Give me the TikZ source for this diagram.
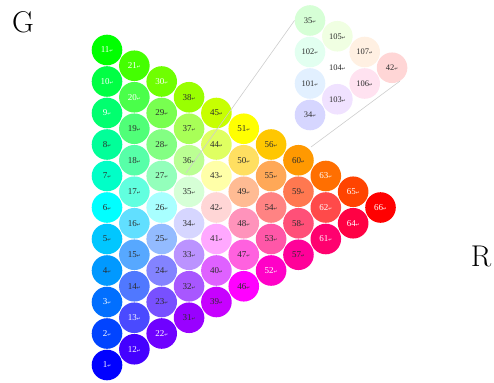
\documentclass[tikz,border=0pt]{standalone}
\usepackage{fontspec}
\newfontfamily\numfont{Liberation Serif}
\newfontfamily\retfont{DejaVu Sans}
\usepackage{tikz}
\usetikzlibrary{calc}
\usepackage{xcolor}
\definecolor{calloutgray}{RGB}{205,205,205}
\definecolor{numdark}{RGB}{45,45,45}

% paragraph mark after each number
\newcommand{\ret}{{\retfont\fontsize{4.5}{5}\selectfont ↵}}

% numbers printed in white
\foreach \w in {1,2,3,9,10,11,12,13,20,21,22,30,52,61,62,63,64,65,66}{\expandafter\gdef\csname wt\w\endcsname{}}

\begin{document}
\begin{tikzpicture}[x=1pt, y=-1pt,
  ball/.style={circle, inner sep=0pt, minimum size=30.6pt, font=\numfont\fontsize{9}{10}\selectfont},
  zball/.style={ball, font=\numfont\fontsize{8.5}{9}\selectfont, text=numdark},
  callout/.style={draw=calloutgray, line width=0.6pt}]
  \useasboundingbox (0,0) rectangle (494,382);

  % Axis letters
  \node[font=\fontsize{30}{32}\selectfont] (g) at (23,22) {G};
  \node[font=\fontsize{30}{32}\selectfont] (r) at (481,256) {R};

  % Main triangle: blue corner bottom left, green top, red right
  \foreach \i in {0,...,10} {
    \pgfmathtruncatemacro\jmax{10-\i}
    \foreach \j in {0,...,\jmax} {
      \pgfmathtruncatemacro\bb{10-\i-\j}
      \pgfmathsetmacro\mx{max(\i,\j,\bb)}
      \pgfmathtruncatemacro\cr{255*(\i/\mx+0.0001)^0.6}
      \pgfmathtruncatemacro\cg{255*(\j/\mx+0.0001)^0.6}
      \pgfmathtruncatemacro\cb{255*(\bb/\mx+0.0001)^0.6}
      \definecolor{ballfill}{RGB}{\cr,\cg,\cb}
      \pgfmathtruncatemacro\n{11*\i-\i*(\i-1)/2+\j+1}
      \ifcsname wt\n\endcsname\def\tc{white}\else\def\tc{numdark}\fi
      \node[ball, fill=ballfill, text=\tc] (b\n) at ({107+27.35*\i}, {365-31.5*\j-15.75*\i}) {\n\ret};
    }
  }

  % Enlarged part between 34, 35 and 42
  \foreach \k/\m/\lab in {0/0/34, 0/1/101, 0/2/102, 0/3/35, 1/0/103, 1/1/104, 1/2/105, 2/0/106, 2/1/107, 3/0/42} {
    \pgfmathtruncatemacro\rr{9+\k}
    \pgfmathtruncatemacro\gg{9+\m}
    \pgfmathtruncatemacro\bb{12-\k-\m}
    \pgfmathsetmacro\mx{max(\rr,\gg,\bb)}
    \pgfmathtruncatemacro\cr{255*(\rr/\mx)^0.6}
    \pgfmathtruncatemacro\cg{255*(\gg/\mx)^0.6}
    \pgfmathtruncatemacro\cb{255*(\bb/\mx)^0.6}
    \definecolor{ballfill}{RGB}{\cr,\cg,\cb}
    \node[zball, fill=ballfill] (z\lab) at ({310+27.35*\k}, {115-31.5*\m-15.75*\k}) {\lab\ret};
  }

  % Callout lines
  \coordinate (c1) at (186,173);
  \coordinate (c2) at (311,147);
  \draw[callout] (c1) -- (z35.west);
  \draw[callout] (c2) -- (z42.-60);
\end{tikzpicture}
\end{document}
